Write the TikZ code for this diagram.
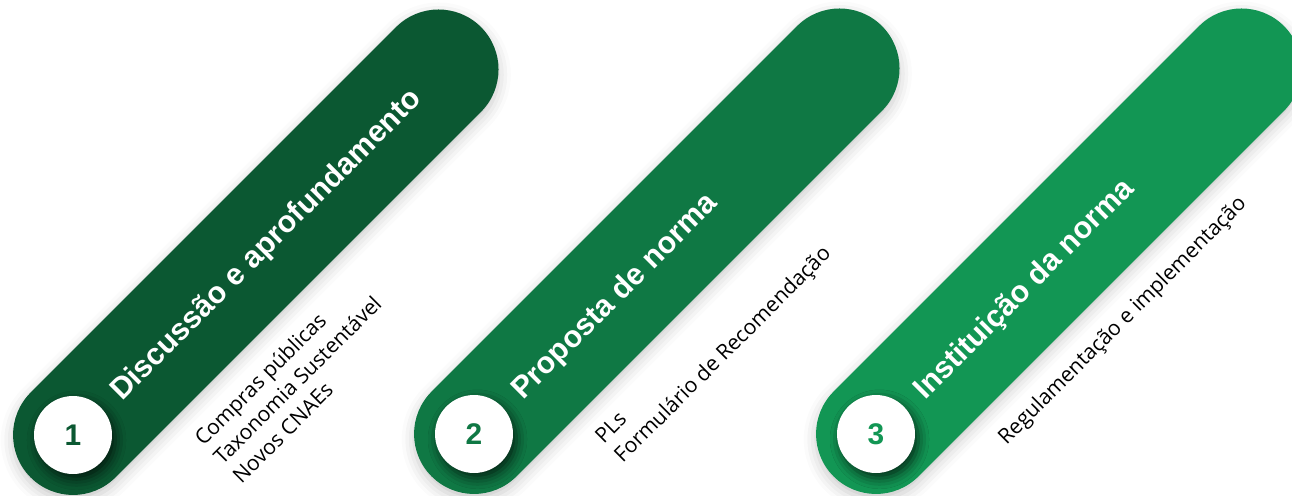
\documentclass[tikz,border=0pt]{standalone}
\usepackage{fontspec}
\setmainfont{Open Sans}
\newfontfamily\headfont{Liberation Sans}
\usetikzlibrary{positioning, shapes.misc, shadows.blur, calc}
\definecolor{stageDark}{RGB}{11, 88, 50}
\definecolor{stageMid}{RGB}{15, 120, 68}
\definecolor{stageLight}{RGB}{18, 150, 84}

\begin{document}
\begin{tikzpicture}[
    x=0.02cm, y=0.02cm,
    stage/.style={
        rounded rectangle,
        draw=none,
        inner sep=0pt,
        minimum width=12.74cm,
        minimum height=2.4cm,
        blur shadow={shadow xshift=0pt, shadow yshift=-3pt, shadow blur radius=7pt, shadow opacity=22}
    },
    badge/.style={
        circle,
        rotate=-45,
        fill=white,
        inner sep=0pt,
        minimum size=1.56cm,
        font=\headfont\bfseries\fontsize{17}{20}\selectfont,
        blur shadow={shadow xshift=2pt, shadow yshift=-3pt, shadow blur radius=6pt, shadow opacity=70}
    },
    heading/.style={
        anchor=base west,
        inner sep=0pt,
        text=white,
        font=\headfont\bfseries\fontsize{17.3}{20}\selectfont
    },
    items/.style={
        anchor=north west,
        inner sep=0pt,
        align=left,
        text=black,
        font=\fontsize{12}{15.3}\selectfont
    }
]
\useasboundingbox (0,0) rectangle (1292,-495);

% 1. Discussion stage
\begin{scope}[shift={(73,-435)}, rotate=45, transform shape]
    \node[stage, fill=stageDark] (stage1) at (258.5,0) {};
    \node[badge, text=stageDark] (num1) at (0,0) {1};
    \node[heading] (head1) at (58,-11) {Discussão e aprofundamento};
    \node[items] (items1) at (84,-84) {Compras públicas\\Taxonomia Sustentável\\Novos CNAEs};
\end{scope}

% 2. Proposal stage
\begin{scope}[shift={(474,-434)}, rotate=45, transform shape]
    \node[stage, fill=stageMid] (stage2) at (258.5,0) {};
    \node[badge, text=stageMid] (num2) at (0,0) {2};
    \node[heading] (head2) at (58,-11) {Proposta de norma};
    \node[items] (items2) at (84,-84) {PLs\\Formulário de Recomendação};
\end{scope}

% 3. Institution stage
\begin{scope}[shift={(876,-434)}, rotate=45, transform shape]
    \node[stage, fill=stageLight] (stage3) at (258.5,0) {};
    \node[badge, text=stageLight] (num3) at (0,0) {3};
    \node[heading] (head3) at (58,-11) {Instituição da norma};
    \node[items] (items3) at (84,-84) {Regulamentação e implementação};
\end{scope}

\end{tikzpicture}
\end{document}
